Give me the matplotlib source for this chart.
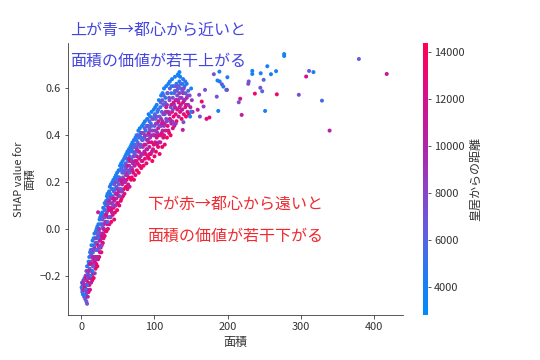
import numpy as np
import matplotlib
matplotlib.use("Agg")
import matplotlib.pyplot as plt
from matplotlib.colors import LinearSegmentedColormap

plt.rcParams['font.family'] = ['Noto Sans CJK JP', 'DejaVu Sans']

# dense band along the curve (area, SHAP value, distance), one line per stretch of the curve
band_area = [
    0.5, 1, 1.5, 2, 2.5, 3, 3.5, 4, 4.5, 5, 5.5, 6,
    6, 6.5, 7, 7, 7.5, 8, 8, 8.5, 9, 9, 9.5, 10, 10,
    10.5, 11, 11, 11.5, 12, 12, 12.5, 13, 13, 13.5, 14, 14, 14.5,
    15, 15, 15.5, 16, 16, 16.5, 17, 17, 17.5, 18, 18, 18.5, 14.5,
    19, 19, 19.5, 20, 20, 20.5, 21, 21, 21.5, 22, 22, 22.5, 23, 23,
    23.5, 24, 24, 24.5, 25, 25, 25.5, 26, 26, 26.5, 27, 27, 27.5, 28, 28,
    28.5, 29, 29, 29.5, 30, 30, 30.5, 31, 31, 32, 32, 32.5, 33, 33, 34, 34,
    34.5, 35, 35, 35.5, 36, 36, 36.5, 37, 37, 38, 38, 38.5, 39, 39, 40, 40,
    40.5, 41, 41, 42, 42, 42.5, 43, 43, 44, 44, 44.5, 45, 45, 46, 46, 47, 47,
    47.5, 48, 48, 49, 49, 49.5, 50, 50, 51, 51, 51.5, 52, 52, 53, 53, 54, 54,
    54.5, 55, 55, 56, 56, 56.5, 57, 57, 58, 58, 58.5, 59, 59, 60, 60, 61, 61,
    61.5, 62, 62, 63, 63, 63.5, 64, 64, 65, 65, 65.5, 66, 66, 67, 67, 68, 68,
    68.5, 69, 69, 70, 70, 70.5, 71, 71, 72, 72, 72.5, 73, 73, 74, 74, 75, 75,
    75.5, 76, 76, 77, 77, 78, 78, 78.5, 79, 79, 80, 80, 81, 81, 82, 82, 83, 83,
    83.5, 84, 84, 85, 85, 86, 86, 87, 87, 88, 88, 89, 89, 90, 90, 91, 91, 92, 92,
    92.5, 93, 93, 94, 94, 95, 95, 96, 96, 97, 97, 98, 98, 99, 99, 100, 100, 101, 101,
    101.5, 102, 102, 103, 103, 104, 104, 105, 105, 106, 106, 107, 107, 108, 108, 109, 109, 110, 110,
    110.5, 111, 111, 112, 112, 113, 113, 114, 114, 115, 115, 116, 116, 117, 117, 118, 118, 119, 119, 120,
    120.5, 121, 121, 122, 122, 123, 123, 124, 124, 125, 125, 126, 126, 127, 127, 128, 128, 129, 129, 130,
    130, 131, 131, 132, 132, 133, 133, 134, 134, 135, 135, 136, 136, 137, 137, 138, 138, 139, 139, 140,
    140.5, 141, 142, 142, 143, 144, 144, 145, 146, 146, 147, 148, 149, 150, 151, 152,
]
band_shap = [
    -0.25, -0.23, -0.27, -0.24, -0.28, -0.22, -0.26, -0.29, -0.21, -0.25, -0.30, -0.20,
    -0.24, -0.28, -0.18, -0.31, -0.22, -0.16, -0.32, -0.26, -0.19, -0.29, -0.23, -0.14, -0.27,
    -0.20, -0.12, -0.24, -0.17, -0.10, -0.26, -0.21, -0.14, -0.09, -0.23, -0.18, -0.07, -0.12,
    -0.22, -0.15, -0.05, -0.19, -0.10, -0.13, -0.04, -0.21, -0.16, -0.08, -0.02, -0.19, -0.20,
    -0.12, -0.04, -0.17, -0.01, -0.09, -0.15, 0.00, -0.12, -0.06, -0.16, 0.01, -0.09, -0.03, -0.13,
    0.02, -0.08, -0.01, -0.12, 0.04, -0.05, -0.10, 0.05, -0.02, -0.08, 0.06, -0.04, -0.10, 0.02, -0.07,
    0.07, -0.02, 0.04, -0.06, 0.09, 0.00, -0.04, 0.06, 0.02, -0.03, 0.11, 0.05, 0.08, -0.01, 0.12, 0.03,
    -0.01, 0.14, 0.07, 0.02, 0.10, 0.15, 0.00, 0.12, 0.05, 0.16, 0.08, 0.02, 0.18, 0.11, 0.05, 0.14,
    0.19, 0.08, 0.03, 0.17, 0.11, 0.20, 0.06, 0.14, 0.21, 0.09, 0.16, 0.04, 0.12, 0.22, 0.07, 0.15, 0.10,
    0.23, 0.13, 0.18, 0.08, 0.24, 0.15, 0.20, 0.11, 0.25, 0.14, 0.19, 0.10, 0.22, 0.17, 0.27, 0.12, 0.21,
    0.28, 0.16, 0.13, 0.24, 0.19, 0.29, 0.14, 0.22, 0.27, 0.17, 0.30, 0.20, 0.15, 0.25, 0.31, 0.18, 0.23,
    0.32, 0.21, 0.27, 0.17, 0.33, 0.24, 0.29, 0.19, 0.34, 0.22, 0.27, 0.31, 0.18, 0.25, 0.35, 0.21, 0.30,
    0.36, 0.26, 0.22, 0.33, 0.37, 0.28, 0.24, 0.31, 0.38, 0.21, 0.35, 0.27, 0.32, 0.23, 0.39, 0.29, 0.35,
    0.40, 0.25, 0.31, 0.37, 0.28, 0.42, 0.33, 0.24, 0.39, 0.30, 0.43, 0.27, 0.36, 0.41, 0.26, 0.32, 0.44, 0.38,
    0.29, 0.35, 0.41, 0.27, 0.45, 0.33, 0.39, 0.30, 0.46, 0.36, 0.42, 0.28, 0.34, 0.47, 0.40, 0.31, 0.44, 0.37, 0.49,
    0.30, 0.43, 0.35, 0.48, 0.39, 0.32, 0.45, 0.50, 0.37, 0.42, 0.29, 0.47, 0.34, 0.51, 0.40, 0.44, 0.31, 0.52, 0.37,
    0.47, 0.42, 0.33, 0.53, 0.39, 0.45, 0.50, 0.35, 0.43, 0.55, 0.40, 0.48, 0.32, 0.52, 0.37, 0.44, 0.57, 0.41, 0.50,
    0.35, 0.46, 0.58, 0.53, 0.39, 0.44, 0.60, 0.49, 0.36, 0.56, 0.42, 0.61, 0.47, 0.39, 0.53, 0.58, 0.44, 0.50, 0.62, 0.41,
    0.55, 0.47, 0.63, 0.52, 0.40, 0.58, 0.45, 0.64, 0.50, 0.43, 0.56, 0.61, 0.48, 0.53, 0.44, 0.65, 0.59, 0.49, 0.55, 0.62,
    0.46, 0.57, 0.51, 0.66, 0.60, 0.48, 0.54, 0.63, 0.58, 0.50, 0.65, 0.53, 0.60, 0.47, 0.56, 0.62, 0.51, 0.58, 0.64, 0.49,
    0.55, 0.61, 0.52, 0.58, 0.48, 0.56, 0.62, 0.50, 0.59, 0.53, 0.49, 0.57, 0.52, 0.60, 0.55, 0.50,
]
band_dist = [
    3900, 4200, 5600, 7800, 3700, 10500, 12800, 6200, 4500, 13500, 7000, 9000,
    12000, 4800, 8200, 6600, 13800, 4000, 7200, 11000, 5400, 9800, 12600, 3800, 13200,
    9200, 4400, 13000, 6000, 3700, 11400, 12800, 7600, 5200, 10200, 13600, 4100, 8800,
    12400, 6800, 3900, 10800, 5000, 9400, 4600, 13400, 7400, 12000, 3800, 8600, 13800,
    11200, 4400, 13000, 5600, 7000, 12200, 3700, 9600, 6200, 13600, 4800, 10400, 8000, 12800,
    4000, 12600, 6800, 13800, 3800, 9000, 11600, 5000, 7600, 13200, 4300, 10200, 12400, 6000, 13400,
    3900, 11800, 6400, 13000, 4600, 8400, 12200, 5200, 9800, 13600, 3700, 7200, 4800, 12800, 4200, 10600,
    13400, 3800, 8000, 11400, 5600, 4400, 12600, 6600, 10000, 3900, 13800, 12000, 4700, 7400, 13000, 9200,
    4100, 12400, 13600, 6000, 9000, 3700, 11800, 5400, 4500, 13200, 7800, 12800, 10400, 3900, 13800, 6800, 11200,
    4400, 9600, 6400, 13400, 3800, 12000, 5000, 13800, 4200, 10800, 7200, 12600, 5800, 11600, 3700, 13000, 8400,
    4000, 11000, 13600, 6200, 9400, 3900, 12800, 7600, 4800, 13200, 4300, 10400, 12200, 5600, 3700, 13800, 8800,
    4500, 12600, 7000, 13400, 3800, 10200, 5400, 12000, 4100, 13800, 8600, 6000, 11400, 9800, 3700, 13000, 5200,
    4200, 11800, 13600, 6600, 3900, 9200, 12400, 5000, 4600, 13200, 7400, 10800, 4000, 12800, 3700, 13800, 6200,
    4400, 13000, 10600, 5800, 12200, 3800, 8800, 13600, 4900, 11400, 4100, 12800, 7000, 4600, 13400, 9600, 3700, 6400,
    12400, 8200, 5200, 13800, 4000, 11000, 6800, 13200, 3800, 9400, 4700, 12800, 10800, 4300, 7200, 13600, 5600, 12000, 3900,
    13400, 6000, 11600, 4200, 9000, 12600, 5000, 3800, 13000, 7800, 13800, 4500, 12200, 4000, 10200, 6600, 13600, 3700, 11800,
    5400, 8400, 13200, 4100, 12000, 7000, 4600, 13800, 10600, 3800, 12800, 6200, 13400, 4900, 11200, 9200, 3700, 13000, 5800,
    13600, 10000, 4000, 6400, 12400, 8800, 3800, 5200, 13200, 4400, 11800, 4200, 7400, 13800, 9600, 5600, 12600, 6800, 3700, 13000,
    8000, 12000, 4300, 5800, 13400, 4700, 10800, 3900, 13000, 12400, 7200, 4100, 13800, 6400, 11400, 3700, 5200, 12800, 9200, 4600,
    13600, 7000, 12200, 3800, 5400, 11000, 13200, 4400, 8600, 12600, 4000, 10200, 6000, 13800, 7800, 4600, 12000, 9600, 4200, 13000,
    8400, 4800, 12800, 6600, 13400, 10400, 4000, 12000, 5600, 9000, 13600, 7400, 11600, 4400, 8800, 12400,
]

# points inside the band, mostly mixed colours
fill_area = [
    1.5, 2.5, 3, 4, 5, 6, 6.5, 7.5, 8, 9, 10,
    10.5, 11.5, 12, 13, 13.5, 14, 15, 15.5, 16, 17, 17.5, 18.5, 19.5, 20,
    20.5, 21, 22, 22.5, 23, 24, 24.5, 25, 26, 26.5, 27, 28, 29, 30,
    30.5, 31, 32, 33, 33.5, 34, 35, 36, 36.5, 37, 38, 39, 39.5, 40,
    41, 42, 43, 43.5, 44, 45, 46, 46.5, 47, 48, 49, 49.5, 50, 50.5,
    51, 52, 52.5, 53, 54, 55, 55.5, 56, 57, 58, 58.5, 59, 60, 60.5,
    61, 62, 62.5, 63, 64, 64.5, 65, 66, 66.5, 67, 68, 69, 69.5, 70,
    70.5, 71, 72, 73, 73.5, 74, 75, 76, 76.5, 77, 78, 79, 79.5, 80,
    80.5, 81, 82, 82.5, 83, 84, 84.5, 85, 86, 86.5, 87, 88, 89, 89.5, 90,
    90.5, 91, 92, 93, 93.5, 94, 95, 96, 96.5, 97, 98, 99, 99.5, 100,
    100.5, 101, 102, 103, 103.5, 104, 105, 105.5, 106, 107, 108, 108.5, 109, 110,
    110.5, 111, 112, 112.5, 113, 114, 114.5, 115, 116, 117, 117.5, 118, 119, 120,
    120.5, 121, 122, 123, 123.5, 124, 125, 126, 126.5, 127, 128, 129, 129.5, 130,
    130.5, 132, 133, 134, 135, 136, 137, 138, 139, 140, 141, 142, 143, 145,
]
fill_shap = [
    -0.26, -0.23, -0.28, -0.26, -0.22, -0.26, -0.21, -0.27, -0.24, -0.21, -0.18,
    -0.15, -0.21, -0.15, -0.20, -0.11, -0.15, -0.18, -0.09, -0.16, -0.12, -0.07, -0.14, -0.06, -0.13,
    -0.04, -0.09, -0.12, -0.02, -0.07, -0.04, 0.00, -0.08, -0.05, 0.02, -0.07, -0.03, 0.01, -0.02,
    0.05, 0.00, 0.08, 0.03, 0.10, 0.06, 0.11, 0.03, 0.13, 0.09, 0.12, 0.05, 0.15, 0.09,
    0.13, 0.07, 0.17, 0.10, 0.13, 0.19, 0.10, 0.17, 0.20, 0.15, 0.21, 0.11, 0.17, 0.22,
    0.16, 0.25, 0.14, 0.21, 0.17, 0.26, 0.20, 0.16, 0.25, 0.21, 0.24, 0.27, 0.20, 0.28,
    0.26, 0.30, 0.23, 0.27, 0.32, 0.25, 0.30, 0.24, 0.33, 0.29, 0.26, 0.34, 0.29, 0.25,
    0.35, 0.28, 0.31, 0.36, 0.29, 0.33, 0.38, 0.34, 0.28, 0.40, 0.36, 0.33, 0.27, 0.40,
    0.35, 0.31, 0.39, 0.29, 0.41, 0.38, 0.32, 0.41, 0.36, 0.43, 0.40, 0.32, 0.44, 0.38, 0.34,
    0.44, 0.38, 0.41, 0.46, 0.32, 0.42, 0.40, 0.44, 0.33, 0.47, 0.40, 0.36, 0.48, 0.42,
    0.49, 0.40, 0.45, 0.48, 0.36, 0.41, 0.51, 0.46, 0.37, 0.44, 0.40, 0.54, 0.47, 0.45,
    0.55, 0.42, 0.49, 0.57, 0.40, 0.45, 0.54, 0.50, 0.52, 0.46, 0.58, 0.50, 0.42, 0.56,
    0.49, 0.60, 0.46, 0.53, 0.61, 0.46, 0.51, 0.54, 0.45, 0.58, 0.52, 0.45, 0.61, 0.55,
    0.59, 0.55, 0.61, 0.52, 0.56, 0.62, 0.51, 0.59, 0.54, 0.60, 0.55, 0.63, 0.53, 0.57,
]
fill_dist = [
    7000, 9500, 4500, 11800, 8200, 5200, 12400, 9000, 4200, 7400, 10600,
    6400, 9800, 12000, 5000, 7200, 11600, 4400, 8400, 6800, 10800, 4800, 12600, 7800, 9400,
    8800, 5800, 10000, 6600, 12200, 4200, 9200, 7000, 11400, 5600, 8000, 12600, 6200, 10400,
    7600, 11000, 5400, 9400, 4600, 12400, 8400, 6400, 5000, 12200, 9600, 7000, 4400, 11600,
    8200, 10800, 5000, 7400, 12000, 6800, 9000, 4800, 7800, 11400, 6200, 12600, 8800, 5200,
    9800, 4600, 7600, 10400, 6600, 5400, 12200, 8400, 6000, 11000, 7200, 4800, 9400, 6400,
    7000, 5800, 9600, 11200, 4400, 8000, 10600, 6800, 5200, 12400, 7800, 4600, 9000, 11800,
    6200, 10000, 8400, 5600, 12000, 7400, 4800, 9400, 11200, 6600, 8000, 10800, 12800, 5000,
    7200, 10400, 6000, 12200, 8800, 5400, 9800, 7600, 11600, 6200, 9000, 12400, 5800, 8400, 10600,
    7000, 9600, 11800, 5600, 12600, 8200, 10200, 6400, 11000, 7800, 9200, 12400, 5200, 8600,
    6000, 10400, 8800, 7200, 12000, 9400, 5400, 11400, 10000, 7600, 12800, 6600, 9000, 11600,
    7000, 9800, 8400, 5800, 12200, 10600, 6600, 9200, 11000, 8000, 6200, 10400, 12600, 7400,
    10000, 6800, 8600, 11200, 5400, 9400, 7600, 12200, 8000, 6000, 10800, 9000, 7200, 11600,
    7400, 9800, 6200, 11400, 8800, 5600, 10200, 7000, 12400, 8200, 9600, 5000, 11000, 7800,
]

# scattered points off the band
sparse_area = [23, 133, 134, 138.6, 139.5, 148.6, 150, 159, 161, 162, 164.5, 167, 169, 171, 175, 181,
               185, 186, 187, 188.6, 189, 192, 194, 198, 199, 199.5, 215, 217, 219, 228, 228.6,
               233.5, 233.5, 237, 244.5, 245, 247, 249, 251, 254, 259, 266, 267, 277, 277,
               297, 307, 311, 317, 328.6, 339, 379, 417]
sparse_shap = [0.071, 0.655, 0.670, 0.423, 0.456, 0.480, 0.501, 0.509, 0.573, 0.480, 0.544, 0.523,
               0.594, 0.470, 0.476, 0.661, 0.565, 0.634, 0.504, 0.672, 0.630, 0.618, 0.608, 0.594,
               0.594, 0.648, 0.541, 0.556, 0.487, 0.620, 0.630, 0.675, 0.662, 0.578, 0.603, 0.665,
               0.588, 0.637, 0.504, 0.695, 0.661, 0.674, 0.575, 0.739, 0.747, 0.573, 0.651, 0.675,
               0.670, 0.548, 0.420, 0.726, 0.662]
sparse_dist = [11000, 4000, 3800, 10800, 7400, 4000, 4200, 11000, 7800, 7400, 13500, 8200, 7200, 13000,
               12800, 7000, 7000, 4000, 4000, 4300, 4100, 7000, 4200, 4000, 7600, 4300, 7000, 12200,
               11000, 7400, 7000, 3700, 3800, 13500, 6800, 4400, 6200, 6000, 4000, 4000, 4200, 4000,
               13500, 3600, 3800, 7400, 12000, 6400, 4200, 5600, 10500, 6400, 11500]

red_blue = LinearSegmentedColormap.from_list("red_blue", [
    (0.0, "#008bfb"), (0.12, "#1a7ef6"), (0.28, "#5a62e2"), (0.45, "#8a45c9"),
    (0.62, "#b025a8"), (0.80, "#d6108c"), (1.0, "#ff0052")])

area = np.concatenate([band_area, fill_area, sparse_area])
shap_vals = np.concatenate([band_shap, fill_shap, sparse_shap])
dist = np.concatenate([band_dist, fill_dist, sparse_dist])

fig = plt.figure(figsize=(7.5, 5), dpi=72)
ax = fig.add_axes([0.126, 0.125, 0.62, 0.756])
cax = fig.add_axes([0.783, 0.125, 0.009, 0.756])

sc = ax.scatter(area, shap_vals, c=dist, cmap=red_blue, vmin=2800, vmax=14400,
                s=16, linewidth=0, rasterized=True)

ax.set_xlim(-18, 439)
ax.set_ylim(-0.368, 0.795)
ax.set_xticks([0, 100, 200, 300, 400])
ax.set_yticks([-0.2, 0.0, 0.2, 0.4, 0.6])
ax.set_xlabel("面積", fontsize=12, color="#333333")
ax.set_ylabel("SHAP value for\n面積", fontsize=11, color="#333333")
ax.spines["top"].set_visible(False)
ax.spines["right"].set_visible(False)
ax.spines["left"].set_color("#333333")
ax.spines["bottom"].set_color("#333333")
ax.tick_params(labelsize=11, color="#333333", labelcolor="#333333")

cb = fig.colorbar(sc, cax=cax)
cb.outline.set_visible(False)
cb.set_ticks([4000, 6000, 8000, 10000, 12000, 14000])
cb.ax.tick_params(labelsize=11, length=3, color="#333333", labelcolor="#333333")
cb.set_label("皇居からの距離", size=12, color="#333333")

blue_txt = "#4545e0"
red_txt = "#f02a30"
ax.text(-15, 0.850, "上が青→都心から近いと", fontsize=16, color=blue_txt, va="center", clip_on=False)
ax.text(-15, 0.714, "面積の価値が若干上がる", fontsize=16, color=blue_txt, va="center")
ax.text(90, 0.107, "下が赤→都心から遠いと", fontsize=16, color=red_txt, va="center")
ax.text(90, -0.034, "面積の価値が若干下がる", fontsize=16, color=red_txt, va="center")

fig.savefig("out.png", dpi=72)
